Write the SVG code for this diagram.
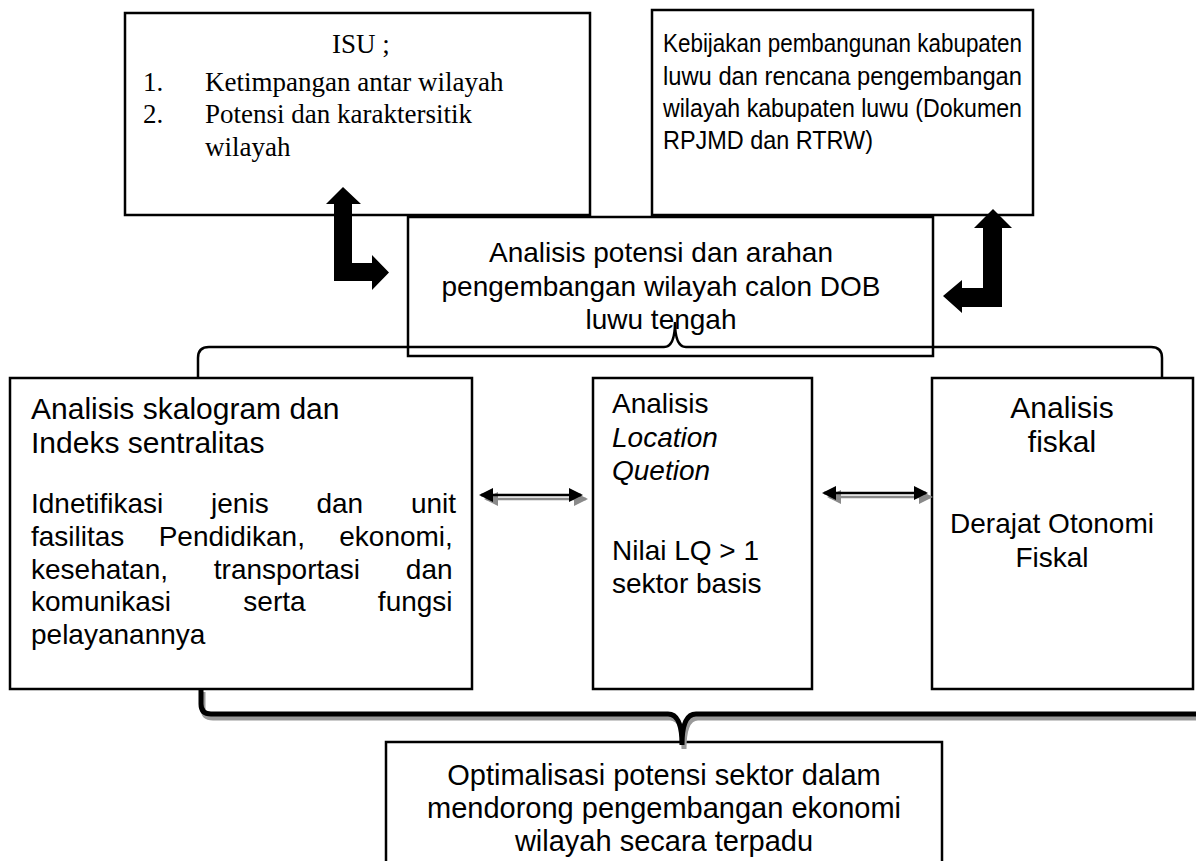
<svg xmlns="http://www.w3.org/2000/svg" width="1196" height="861" viewBox="0 0 1196 861">
<defs>
<style>
.box{fill:#fff;stroke:#000;stroke-width:2.5}
.s{font-family:"Liberation Sans",Arial,sans-serif;fill:#000}
.t{font-family:"Liberation Serif","Times New Roman",serif;fill:#000;font-size:27px}
.c{text-anchor:middle}
.bl{fill:#000}
.line{stroke:#000;stroke-width:2.5;fill:none}
.lineg{stroke:#8a8a8a;stroke-width:2.5;fill:none}
</style>
<marker id="hb" viewBox="0 0 14 14" refX="12" refY="7" markerWidth="14" markerHeight="14" markerUnits="userSpaceOnUse" orient="auto-start-reverse"><path d="M0,0 L14,7 L0,14 Z" fill="#000"/></marker>
<marker id="hg" viewBox="0 0 14 14" refX="12" refY="7" markerWidth="14" markerHeight="14" markerUnits="userSpaceOnUse" orient="auto-start-reverse"><path d="M0,0 L14,7 L0,14 Z" fill="#8a8a8a"/></marker>
</defs>
<rect width="1196" height="861" fill="#fff"/>

<g id="isu">
<rect class="box" x="125" y="13" width="465" height="202"/>
<text class="t c" x="361" y="53">ISU ;</text>
<text class="t" x="143" y="91">1.</text>
<text class="t" x="205" y="91">Ketimpangan antar wilayah</text>
<text class="t" x="143" y="123">2.</text>
<text class="t" x="205" y="123">Potensi dan karaktersitik</text>
<text class="t" x="205" y="156">wilayah</text>
</g>

<g id="kebijakan">
<rect class="box" x="652" y="10" width="381" height="205"/>
<text class="s" font-size="26" x="663" y="52" textLength="359" lengthAdjust="spacingAndGlyphs">Kebijakan pembangunan kabupaten</text>
<text class="s" font-size="26" x="663" y="85" textLength="359" lengthAdjust="spacingAndGlyphs">luwu dan rencana pengembangan</text>
<text class="s" font-size="26" x="663" y="117" textLength="359" lengthAdjust="spacingAndGlyphs">wilayah kabupaten luwu (Dokumen</text>
<text class="s" font-size="26" x="663" y="149" textLength="210" lengthAdjust="spacingAndGlyphs">RPJMD dan RTRW)</text>
</g>

<g id="analisis-potensi">
<rect class="box" x="408" y="217" width="525" height="139"/>
<text class="s c" font-size="28" x="661" y="262">Analisis potensi dan arahan</text>
<text class="s c" font-size="28" x="661" y="296">pengembangan wilayah calon DOB</text>
<text class="s c" font-size="28" x="661" y="329">luwu tengah</text>
</g>

<g id="skalogram">
<rect class="box" x="10" y="378" width="462" height="311"/>
<text class="s" font-size="30" x="31" y="419">Analisis skalogram dan</text>
<text class="s" font-size="30" x="31" y="453">Indeks sentralitas</text>
<text class="s" font-size="28" x="31" y="513" word-spacing="40">Idnetifikasi jenis dan unit</text>
<text class="s" font-size="28" x="31" y="546" word-spacing="26.5">fasilitas Pendidikan, ekonomi,</text>
<text class="s" font-size="28" x="31" y="579" word-spacing="38">kesehatan, transportasi dan</text>
<text class="s" font-size="28" x="31" y="611" word-spacing="64.5">komunikasi serta fungsi</text>
<text class="s" font-size="28" x="31" y="644">pelayanannya</text>
</g>

<g id="lq">
<rect class="box" x="593" y="378" width="219" height="311"/>
<text class="s" font-size="28" x="612" y="413">Analisis</text>
<text class="s" font-size="28" x="612" y="447" font-style="italic">Location</text>
<text class="s" font-size="28" x="612" y="480" font-style="italic">Quetion</text>
<text class="s" font-size="28" x="612" y="560">Nilai LQ &gt; 1</text>
<text class="s" font-size="28" x="612" y="593">sektor basis</text>
</g>

<g id="fiskal">
<rect class="box" x="932" y="378" width="261" height="311"/>
<text class="s c" font-size="30" x="1062" y="418">Analisis</text>
<text class="s c" font-size="30" x="1062" y="452">fiskal</text>
<text class="s c" font-size="28" x="1052" y="533">Derajat Otonomi</text>
<text class="s c" font-size="28" x="1052" y="567">Fiskal</text>
</g>

<g id="optimalisasi">
<rect class="box" x="386" y="742" width="556" height="140"/>
<text class="s c" font-size="29" x="664" y="785">Optimalisasi potensi sektor dalam</text>
<text class="s c" font-size="29" x="664" y="818">mendorong pengembangan ekonomi</text>
<text class="s c" font-size="29" x="664" y="851">wilayah secara terpadu</text>
</g>

<g id="connectors">
<polygon class="bl" points="343,187 361,204 352,204 352,263 372,263 372,255 389,272.5 372,290 372,281 334,281 334,204 326,204"/>
<polygon class="bl" points="993,209 1012,228 1002,228 1002,307 962,307 962,313 943,296 962,280 962,288 983,288 983,228 974,228"/>
<path class="line" d="M198,378 L198,358 Q198,347 209,347 L664,347 Q675,347 675,322 Q675,347 686,347 L1151,347 Q1162,347 1162,358 L1162,378"/>
<path d="M203,692 L203,708 Q203,718 213,718 L670,718 Q684,718 684,749 Q684,718 698,718 L1200,718" stroke="#9a9a9a" stroke-width="5" fill="none"/>
<path d="M201,688 L201,704 Q201,714 211,714 L668,714 Q682,714 682,745 Q682,714 696,714 L1200,714" stroke="#000" stroke-width="5" fill="none"/>
<line class="lineg" x1="486" y1="499" x2="586" y2="499" marker-start="url(#hg)" marker-end="url(#hg)"/>
<line class="line" x1="481" y1="495" x2="581" y2="495" marker-start="url(#hb)" marker-end="url(#hb)"/>
<line class="lineg" x1="829" y1="497" x2="931" y2="497" marker-start="url(#hg)" marker-end="url(#hg)"/>
<line class="line" x1="824" y1="493" x2="926" y2="493" marker-start="url(#hb)" marker-end="url(#hb)"/>
</g>
</svg>
